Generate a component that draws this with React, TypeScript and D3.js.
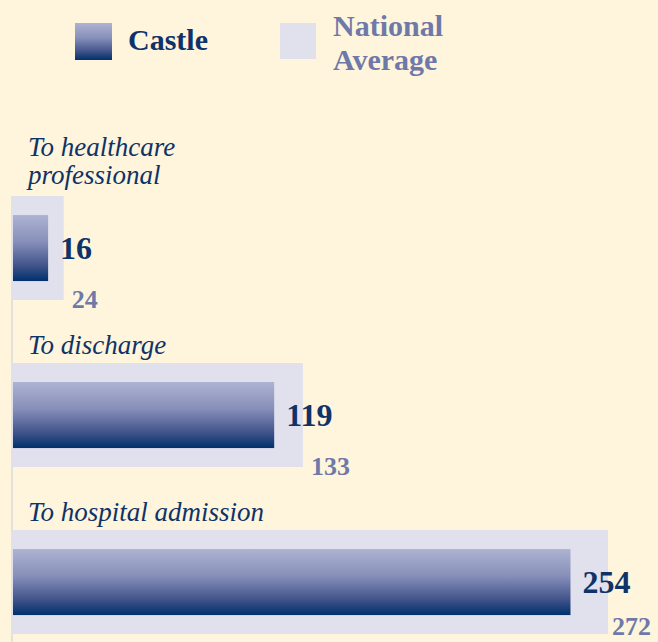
import React from "react";
import * as d3 from "d3";

const categories = ["To healthcare professional", "To discharge", "To hospital admission"];
const categoryLines = [["To healthcare", "professional"], ["To discharge"], ["To hospital admission"]];
const castleValues = [16, 119, 254];
const nationalValues = [24, 133, 272];
const legendLabels = ["Castle", "National Average"];

const W = 658;
const H = 642;
const BG = "#fef5dc";
const NAVY = "#0f3368";
const GREYBLUE = "#6f79a9";
const NATIONAL_FILL = "#e1e1ee";

export default function App() {
  React.useEffect(() => {
    document.body.style.margin = "0";
  }, []);

  const x = d3.scaleLinear().domain([0, 272]).range([11, 608]);
  const y = d3
    .scaleBand<string>()
    .domain(categories)
    .range([196, 634])
    .paddingInner(63 / 167)
    .paddingOuter(0);

  const bw = y.bandwidth();
  const castleOffset = bw * 0.183;
  const castleH = bw * 0.635;

  return (
    <svg width={W} height={H} style={{ display: "block" }} fontFamily="'Liberation Serif', serif">
      <defs>
        <linearGradient id="castleGrad" x1="0" y1="0" x2="0" y2="1">
          <stop offset="0%" stopColor="#adb3d1" />
          <stop offset="40%" stopColor="#8890ba" />
          <stop offset="75%" stopColor="#44568c" />
          <stop offset="100%" stopColor="#00306b" />
        </linearGradient>
      </defs>
      <rect x={0} y={0} width={W} height={H} fill={BG} />

      {/* legend */}
      <rect x={75} y={23} width={37} height={37} fill="url(#castleGrad)" />
      <text x={128} y={50} fontSize={30} fontWeight="bold" fill={NAVY}>
        {legendLabels[0]}
      </text>
      <rect x={280} y={23} width={36} height={36} fill={NATIONAL_FILL} />
      <text x={333} y={36} fontSize={30} fontWeight="bold" fill={GREYBLUE}>
        {legendLabels[1].split(" ")[0]}
      </text>
      <text x={333} y={70} fontSize={30} fontWeight="bold" fill={GREYBLUE}>
        {legendLabels[1].split(" ")[1]}
      </text>

      {/* axis line */}
      <line x1={12} x2={12} y1={196} y2={H} stroke="#e4e0db" strokeWidth={2} />

      {categories.map((c, i) => {
        const top = y(c)!;
        const lines = categoryLines[i];
        const castleTop = top + castleOffset;
        return (
          <g key={c}>
            {lines.map((l, j) => (
              <text
                key={l}
                x={28}
                y={top - 9 - (lines.length - 1 - j) * 28 - (lines.length > 1 ? 3 : 0)}
                fontSize={27}
                fontStyle="italic"
                fill={NAVY}
              >
                {l}
              </text>
            ))}
            <rect x={x(0)} y={top} width={x(nationalValues[i]) - x(0)} height={bw} fill={NATIONAL_FILL} />
            <rect
              x={x(0) + 2}
              y={castleTop}
              width={x(castleValues[i]) - x(0)}
              height={castleH}
              fill="url(#castleGrad)"
            />
            <text
              x={x(castleValues[i]) + 2 + 12}
              y={castleTop + castleH / 2 + 11}
              fontSize={32}
              fontWeight="bold"
              fill={NAVY}
            >
              {castleValues[i]}
            </text>
            <text
              x={Math.min(x(nationalValues[i]) + 8, W - 46)}
              y={Math.min(top + bw + 8, H - 7)}
              fontSize={26}
              fontWeight="bold"
              fill={GREYBLUE}
            >
              {nationalValues[i]}
            </text>
          </g>
        );
      })}
    </svg>
  );
}
